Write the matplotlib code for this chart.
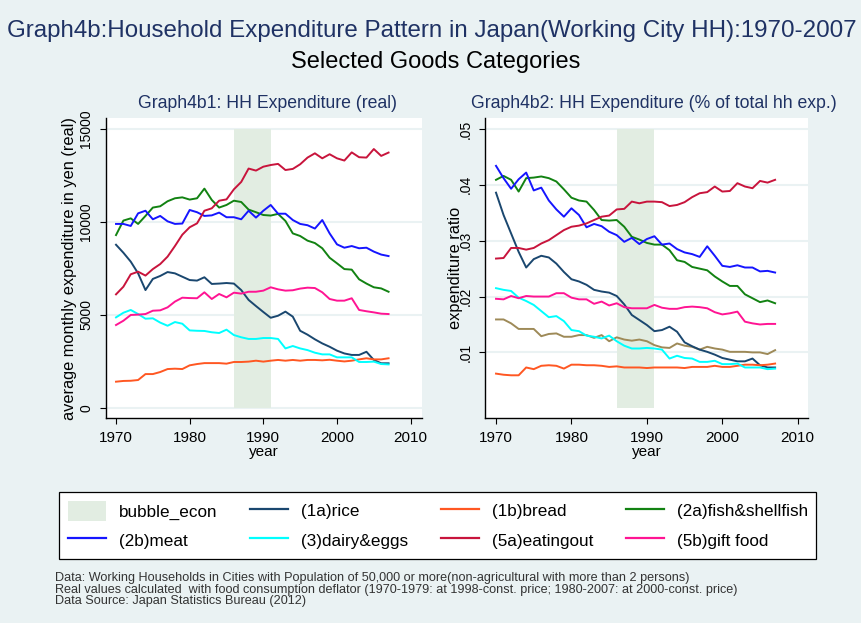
import matplotlib
matplotlib.use("Agg")
import matplotlib.pyplot as plt
from matplotlib.lines import Line2D
from matplotlib.patches import Patch

plt.rcParams['font.family'] = ['Liberation Sans', 'DejaVu Sans']

# donnees (1970-2007)
years = list(range(1970, 2008))

# Graph4b1 : depenses reelles (yen / mois)
rice_real = [8770, 8340, 7860, 7230, 6330, 6930, 7090, 7300, 7230, 7050,
             6870, 6840, 7020, 6660, 6680, 6710, 6680, 6330, 5800, 5470,
             5150, 4840, 4950, 5170, 4900, 4140, 3930, 3680, 3460, 3280,
             3070, 2920, 2840, 2840, 3010, 2570, 2390, 2390]
bread_real = [1400, 1440, 1450, 1490, 1810, 1810, 1920, 2080, 2100, 2080,
              2280, 2350, 2400, 2400, 2400, 2370, 2460, 2460, 2480, 2530,
              2480, 2530, 2570, 2530, 2570, 2530, 2570, 2570, 2550, 2580,
              2530, 2490, 2530, 2600, 2660, 2600, 2600, 2660]
fish_real = [9290, 10070, 10190, 9890, 10320, 10770, 10840, 11110, 11270, 11320,
             11200, 11270, 11790, 11180, 10770, 10910, 11140, 11070, 10660, 10520,
             10370, 10340, 10430, 10050, 9380, 9240, 8990, 8860, 8580, 8070,
             7770, 7460, 7430, 6910, 6680, 6480, 6420, 6240]
meat_real = [9890, 9890, 9780, 10460, 10600, 10140, 10320, 10030, 9890, 9910,
             10640, 10520, 10320, 10350, 10500, 10250, 10250, 10140, 10600, 10230,
             10600, 10910, 10440, 10440, 10100, 9890, 9820, 9640, 10100, 9380,
             8790, 8610, 8700, 8580, 8610, 8400, 8240, 8160]
dairy_real = [4860, 5110, 5260, 5040, 4790, 4810, 4580, 4410, 4610, 4520,
              4160, 4140, 4130, 4060, 4020, 4200, 3910, 3790, 3700, 3700,
              3750, 3750, 3700, 3190, 3320, 3190, 3100, 2960, 2870, 2870,
              2710, 2710, 2710, 2460, 2460, 2480, 2350, 2330]
eatout_real = [6100, 6510, 7180, 7320, 7110, 7460, 7730, 8130, 8700, 9310,
               9710, 9920, 10600, 10730, 11140, 11210, 11750, 12150, 12870, 12760,
               12970, 13060, 13120, 12790, 12850, 13100, 13460, 13690, 13420, 13640,
               13420, 13300, 13740, 13480, 13460, 13920, 13550, 13730]
gift_real = [4450, 4680, 4990, 5010, 5040, 5220, 5240, 5400, 5710, 5920,
             5900, 5890, 6210, 5850, 6120, 5940, 6190, 6140, 6240, 6240,
             6300, 6480, 6370, 6300, 6320, 6410, 6460, 6440, 6210, 5850,
             5760, 5760, 5890, 5260, 5190, 5130, 5060, 5040]

# Graph4b2 : part dans la depense totale du menage
rice_pct = [.0386, .0346, .0313, .0280, .0252, .0267, .0273, .0270, .0259, .0244,
            .0231, .0227, .0221, .0212, .0209, .0207, .0201, .0186, .0167, .0158,
            .0149, .0138, .0140, .0146, .0137, .0118, .0111, .0105, .0101, .0096,
            .0090, .0087, .0084, .0084, .0089, .0077, .0073, .0073]
bread_pct = [.0062, .0060, .0059, .0059, .0073, .0070, .0076, .0077, .0076, .0071,
             .0078, .0078, .0077, .0077, .0076, .0074, .0075, .0073, .0073, .0073,
             .0072, .0073, .0073, .0073, .0073, .0072, .0074, .0074, .0074, .0076,
             .0074, .0074, .0076, .0078, .0078, .0077, .0078, .0080]
fish_pct = [.0409, .0416, .0409, .0388, .0412, .0413, .0415, .0412, .0406, .0392,
            .0377, .0372, .0370, .0355, .0337, .0336, .0337, .0325, .0307, .0302,
            .0296, .0293, .0293, .0283, .0265, .0262, .0253, .0250, .0247, .0236,
            .0227, .0219, .0219, .0204, .0197, .0190, .0193, .0188]
meat_pct = [.0434, .0412, .0393, .0410, .0422, .0390, .0395, .0372, .0356, .0343,
            .0358, .0346, .0324, .0330, .0326, .0316, .0310, .0298, .0305, .0294,
            .0303, .0308, .0293, .0295, .0285, .0279, .0276, .0271, .0290, .0273,
            .0255, .0253, .0256, .0252, .0252, .0245, .0246, .0243]
dairy_pct = [.0215, .0212, .0210, .0198, .0192, .0185, .0174, .0163, .0165, .0156,
             .0140, .0138, .0130, .0128, .0125, .0130, .0120, .0112, .0107, .0107,
             .0108, .0107, .0105, .0089, .0094, .0090, .0089, .0083, .0083, .0085,
             .0079, .0079, .0080, .0073, .0073, .0073, .0070, .0071]
eatout_pct = [.0268, .0269, .0287, .0287, .0284, .0287, .0295, .0301, .0310, .0319,
              .0325, .0327, .0331, .0337, .0343, .0345, .0356, .0357, .0370, .0367,
              .0370, .0370, .0369, .0362, .0364, .0369, .0378, .0385, .0387, .0397,
              .0388, .0389, .0403, .0397, .0394, .0407, .0404, .0409]
gift_pct = [.0196, .0195, .0201, .0197, .0201, .0200, .0200, .0200, .0206, .0206,
            .0198, .0195, .0195, .0187, .0191, .0184, .0188, .0181, .0179, .0179,
            .0179, .0185, .0180, .0178, .0178, .0181, .0182, .0181, .0179, .0172,
            .0168, .0170, .0173, .0155, .0152, .0150, .0151, .0151]
# serie brune sans legende (graphique de droite seulement)
other_pct = [.0159, .0159, .0152, .0142, .0142, .0142, .0129, .0133, .0134, .0128,
             .0128, .0131, .0131, .0126, .0131, .0120, .0127, .0123, .0121, .0123,
             .0120, .0113, .0109, .0108, .0116, .0112, .0110, .0105, .0110, .0107,
             .0105, .0101, .0101, .0101, .0100, .0100, .0097, .0104]

# periode de la bulle
bubble_start, bubble_end = 1986, 1991
bubble_top_real, bubble_top_pct = 15000, 0.05

xticks = [1970, 1980, 1990, 2000, 2010]
yticks_real = [0, 5000, 10000, 15000]
yticks_pct = [0.01, 0.02, 0.03, 0.04, 0.05]
yticklabels_pct = ['.01', '.02', '.03', '.04', '.05']

labels = ['(1a)rice', '(1b)bread', '(2a)fish&shellfish', '(2b)meat',
          '(3)dairy&eggs', '(5a)eatingout', '(5b)gift food']
colors = ['#1a476f', '#ff5722', '#128212', '#1515ff',
          '#00ffff', '#c8143c', '#ff1493']
other_color = '#9e8a58'
bubble_color = '#e2ede2'
bg = '#eaf2f3'
navy = '#1f3264'

series_real = [rice_real, bread_real, fish_real, meat_real, dairy_real, eatout_real, gift_real]
series_pct = [rice_pct, bread_pct, fish_pct, meat_pct, dairy_pct, eatout_pct, gift_pct]

fig = plt.figure(figsize=(8.61, 6.23), dpi=100, facecolor=bg)
ax1 = fig.add_axes([105.7/861, 1-418.3/623, 316/861, 300.3/623])
ax2 = fig.add_axes([485.3/861, 1-418.3/623, 323/861, 300.3/623])


def style_axis(ax):
    ax.set_facecolor('white')
    ax.set_axisbelow(True)
    for s in ['top', 'right']:
        ax.spines[s].set_visible(False)
    for s in ['left', 'bottom']:
        ax.spines[s].set_linewidth(1.0)
        ax.spines[s].set_color('black')
    ax.grid(axis='y', color=bg, linewidth=1.5)
    ax.tick_params(axis='x', length=4, width=0.8, labelsize=11, pad=5)
    ax.tick_params(axis='y', length=4, width=0.8, labelsize=10, pad=5)
    for t in ax.get_yticklabels():
        t.set_rotation(90)
        t.set_va('center')
    ax.set_xticks(xticks)
    ax.set_xlim(1968.6, 2011.5)
    ax.set_xlabel('year', fontsize=11, labelpad=0.5)


# panneau de gauche
ax1.fill_betweenx([0, bubble_top_real], bubble_start, bubble_end,
                  color=bubble_color, linewidth=0, zorder=1)
for vals, c in zip(series_real, colors):
    ax1.plot(years, vals, color=c, linewidth=1.4, zorder=3)
ax1.set_ylim(-570, 15590)
ax1.set_yticks(yticks_real)
ax1.set_yticklabels([str(v) for v in yticks_real])
style_axis(ax1)
ax1.set_ylabel('average monthly expenditure in yen (real)', fontsize=11.8)
ax1.yaxis.set_label_coords(-0.09, 0.5)

# panneau de droite
ax2.fill_betweenx([0, bubble_top_pct], bubble_start, bubble_end,
                  color=bubble_color, linewidth=0, zorder=1)
ax2.plot(years, other_pct, color=other_color, linewidth=1.4, zorder=3)
for vals, c in zip(series_pct, colors):
    ax2.plot(years, vals, color=c, linewidth=1.4, zorder=3)
ax2.set_ylim(-0.0018, 0.05197)
ax2.set_yticks(yticks_pct)
ax2.set_yticklabels(yticklabels_pct)
style_axis(ax2)
ax2.set_xlim(1968.58, 2011.4)
ax2.set_ylabel('expenditure ratio', fontsize=11.8)
ax2.yaxis.set_label_coords(-0.068, 0.5)

# titres
fig.text(0.502, 1-31/623, 'Graph4b:Household Expenditure Pattern in Japan(Working City HH):1970-2007',
         ha='center', va='center', fontsize=17.4, color=navy)
fig.text(0.506, 1-62/623, 'Selected Goods Categories',
         ha='center', va='center', fontsize=17, color='black')
fig.text(267.5/861, 1-104/623, 'Graph4b1: HH Expenditure (real)',
         ha='center', va='center', fontsize=12.7, color=navy)
fig.text(654/861, 1-104/623, 'Graph4b2: HH Expenditure (% of total hh exp.)',
         ha='center', va='center', fontsize=12.7, color=navy)

# legende (ordre colonne par colonne)
h = [Patch(facecolor=bubble_color, edgecolor='none', label='bubble_econ')]
h += [Line2D([0], [0], color=c, linewidth=1.6, label=l) for c, l in zip(colors, labels)]
order = [0, 4, 1, 5, 2, 6, 3, 7]
leg = fig.legend([h[i] for i in order], [h[i].get_label() for i in order],
                 loc='center', bbox_to_anchor=(437.8/861, 1-525.5/623), ncol=4,
                 fontsize=12.3, frameon=True, fancybox=False, framealpha=1,
                 edgecolor='black', handlelength=2.25, handleheight=1.4,
                 handletextpad=0.74, columnspacing=1.9, labelspacing=0.58,
                 borderpad=0.5, borderaxespad=0)
leg.get_frame().set_linewidth(0.9)

# notes
notes = ['Data: Working Households in Cities with Population of 50,000 or more(non-agricultural with more than 2 persons)',
         'Real values calculated  with food consumption deflator (1970-1979: at 1998-const. price; 1980-2007: at 2000-const. price)',
         'Data Source: Japan Statistics Bureau (2012)']
for i, n in enumerate(notes):
    fig.text(55/861, 1-(578.3+11.2*i)/623, n, ha='left', va='center', fontsize=9.1, color='#333333')

fig.savefig('out.png', dpi=100, facecolor=bg)
